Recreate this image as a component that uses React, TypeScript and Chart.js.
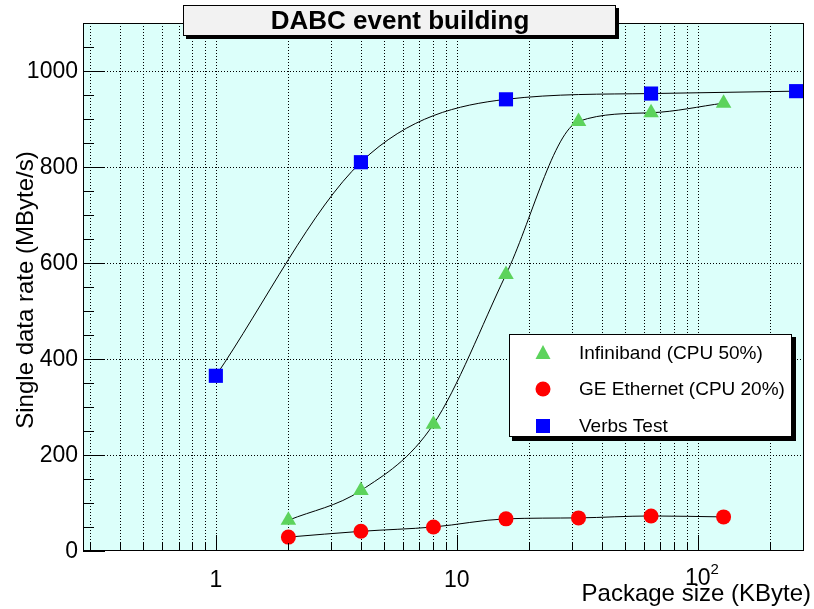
import React, { useEffect, useRef } from 'react';
import { Chart, registerables } from 'chart.js';

Chart.register(...registerables);

// ---- data ----
const verbsSizes = [1, 4, 16, 64, 256];
const verbsRate = [365, 810, 941, 953, 958];
const packageSizes = [2, 4, 8, 16, 32, 64, 128];
const infinibandRate = [64, 126, 264, 576, 895, 913, 933];
const ethernetRate = [29, 41, 50, 67, 69, 73, 71];

const seriesNames = ['Infiniband (CPU 50%)', 'GE Ethernet (CPU 20%)', 'Verbs Test'];
const chartTitle = 'DABC event building';
const xTitle = 'Package size (KByte)';
const yTitle = 'Single data rate (MByte/s)';

const xGridTicks = [0.3, 0.4, 0.5, 0.6, 0.7, 0.8, 0.9, 1, 2, 3, 4, 5, 6, 7, 8, 9, 10, 20, 30, 40, 50, 60, 70, 80, 90, 100, 200];
const xMajorTicks = [1, 10, 100];
const xTickLabels = ['1', '10', '10'];
const xTickExponents = ['', '', '2'];
const yMajorTicks = [0, 200, 400, 600, 800, 1000];
const yMinorTicks = [50, 100, 150, 250, 300, 350, 450, 500, 550, 650, 700, 750, 850, 900, 950, 1050];

const BG = '#dcfffa';
const GREEN = '#5cd35c';
const RED = '#ff0000';
const BLUE = '#0000ff';
const FONT = '"Liberation Sans", Arial, Helvetica, sans-serif';

function drawMarker(ctx: CanvasRenderingContext2D, kind: string, x: number, y: number, color: string) {
  ctx.fillStyle = color;
  ctx.beginPath();
  if (kind === 'triangle') {
    ctx.moveTo(x, y - 8);
    ctx.lineTo(x + 7.5, y + 6);
    ctx.lineTo(x - 7.5, y + 6);
    ctx.closePath();
  } else if (kind === 'circle') {
    ctx.arc(x, y, 7.5, 0, Math.PI * 2);
  } else {
    ctx.rect(x - 7, y - 7, 14, 14);
  }
  ctx.fill();
}

const rootStyle = {
  id: 'rootStyle',
  beforeDraw(chart: any) {
    const { ctx, chartArea: a } = chart;
    const x = chart.scales.x;
    const y = chart.scales.y;
    ctx.save();
    ctx.fillStyle = '#ffffff';
    ctx.fillRect(0, 0, chart.width, chart.height);
    ctx.fillStyle = BG;
    ctx.fillRect(a.left, a.top, a.right - a.left, a.bottom - a.top);
    ctx.strokeStyle = '#000';
    ctx.lineWidth = 1;
    ctx.setLineDash([1, 2]);
    ctx.beginPath();
    for (const v of xGridTicks) {
      const px = Math.round(x.getPixelForValue(v)) + 0.5;
      ctx.moveTo(px, a.top);
      ctx.lineTo(px, a.bottom);
    }
    for (const v of yMajorTicks) {
      if (v === 0) continue;
      const py = Math.round(y.getPixelForValue(v)) + 0.5;
      ctx.moveTo(a.left, py);
      ctx.lineTo(a.right, py);
    }
    ctx.stroke();
    ctx.restore();
  },
  afterDatasetsDraw(chart: any) {
    const { ctx, chartArea: a } = chart;
    const x = chart.scales.x;
    const y = chart.scales.y;
    ctx.save();
    ctx.setLineDash([]);
    ctx.strokeStyle = '#000';
    ctx.lineWidth = 1;
    // frame
    ctx.strokeRect(Math.round(a.left) + 0.5, Math.round(a.top) + 0.5, Math.round(a.right - a.left) - 1, Math.round(a.bottom - a.top) - 1);
    // y ticks
    ctx.beginPath();
    for (const v of yMajorTicks) {
      const py = Math.round(y.getPixelForValue(v)) + 0.5;
      ctx.moveTo(a.left, py);
      ctx.lineTo(a.left + 22, py);
    }
    for (const v of yMinorTicks) {
      const py = Math.round(y.getPixelForValue(v)) + 0.5;
      ctx.moveTo(a.left, py);
      ctx.lineTo(a.left + 11, py);
    }
    // x ticks
    for (const v of xGridTicks) {
      const px = Math.round(x.getPixelForValue(v)) + 0.5;
      const len = xMajorTicks.includes(v) ? 16 : 8;
      ctx.moveTo(px, a.bottom);
      ctx.lineTo(px, a.bottom - len);
    }
    ctx.stroke();

    // y labels
    ctx.fillStyle = '#000';
    ctx.font = `23px ${FONT}`;
    ctx.textAlign = 'right';
    ctx.textBaseline = 'middle';
    for (const v of yMajorTicks) {
      ctx.fillText(String(v), 78, y.getPixelForValue(v) + 1);
    }
    // x labels
    xMajorTicks.forEach((v, i) => {
      const px = x.getPixelForValue(v);
      const lab = xTickLabels[i];
      const exp = xTickExponents[i];
      ctx.font = `23px ${FONT}`;
      ctx.textBaseline = 'alphabetic';
      if (!exp) {
        ctx.textAlign = 'center';
        ctx.fillText(lab, px, 587);
      } else {
        const w = ctx.measureText(lab).width;
        ctx.textAlign = 'left';
        const start = px - w / 2;
        ctx.fillText(lab, start, 585);
        ctx.font = `15px ${FONT}`;
        ctx.fillText(exp, start + w, 574);
      }
    });

    // axis titles
    ctx.font = `24px ${FONT}`;
    ctx.textAlign = 'right';
    ctx.textBaseline = 'alphabetic';
    ctx.fillText(xTitle, 811, 601);
    ctx.save();
    ctx.translate(33, 290);
    ctx.rotate(-Math.PI / 2);
    ctx.textAlign = 'center';
    ctx.fillText(yTitle, 0, 0);
    ctx.restore();

    // title box
    ctx.fillStyle = '#000';
    ctx.fillRect(186, 8, 433, 31);
    ctx.fillStyle = '#f2f2f2';
    ctx.fillRect(183, 5, 433, 31);
    ctx.strokeRect(183.5, 5.5, 432, 30);
    ctx.fillStyle = '#000';
    ctx.font = `bold 26px ${FONT}`;
    ctx.textAlign = 'center';
    ctx.textBaseline = 'middle';
    ctx.fillText(chartTitle, 400, 22);

    // legend box
    ctx.fillStyle = '#000';
    ctx.fillRect(512, 337, 284, 104);
    ctx.fillStyle = '#ffffff';
    ctx.fillRect(509, 334, 283, 103);
    ctx.strokeRect(509.5, 334.5, 282, 102);
    const rows = [
      { kind: 'triangle', color: GREEN, y: 353 },
      { kind: 'circle', color: RED, y: 389 },
      { kind: 'rect', color: BLUE, y: 426 },
    ];
    rows.forEach((r, i) => {
      drawMarker(ctx, r.kind, 543, r.y, r.color);
      ctx.fillStyle = '#000';
      ctx.font = `19px ${FONT}`;
      ctx.textAlign = 'left';
      ctx.textBaseline = 'middle';
      ctx.fillText(seriesNames[i], 579, r.y + 1);
    });
    ctx.restore();
  },
};

export default function App() {
  const ref = useRef<HTMLCanvasElement | null>(null);
  useEffect(() => {
    document.body.style.margin = '0';
    const canvas = ref.current;
    if (!canvas) return;
    const mk = (xs: number[], ys: number[]) => xs.map((v, i) => ({ x: v, y: ys[i] }));
    const chart = new Chart(canvas, {
      type: 'scatter',
      data: {
        datasets: [
          {
            label: seriesNames[1],
            data: mk(packageSizes, ethernetRate),
            showLine: true,
            borderColor: '#000',
            borderWidth: 1,
            cubicInterpolationMode: 'monotone',
            pointStyle: 'circle',
            pointRadius: 7.5,
            pointBackgroundColor: RED,
            pointBorderColor: RED,
            pointBorderWidth: 0,
          },
          {
            label: seriesNames[0],
            data: mk(packageSizes, infinibandRate),
            showLine: true,
            borderColor: '#000',
            borderWidth: 1,
            cubicInterpolationMode: 'monotone',
            pointStyle: 'triangle',
            pointRadius: 9,
            pointBackgroundColor: GREEN,
            pointBorderColor: GREEN,
            pointBorderWidth: 0,
          },
          {
            label: seriesNames[2],
            data: mk(verbsSizes, verbsRate),
            showLine: true,
            borderColor: '#000',
            borderWidth: 1,
            cubicInterpolationMode: 'monotone',
            pointStyle: 'rect',
            pointRadius: 10,
            pointBackgroundColor: BLUE,
            pointBorderColor: BLUE,
            pointBorderWidth: 0,
          },
        ],
      },
      options: {
        responsive: false,
        animation: false,
        devicePixelRatio: 1,
        layout: { padding: { left: 83, right: 3, top: 23, bottom: 58 } },
        scales: {
          x: { type: 'logarithmic', min: 0.281, max: 276, display: false },
          y: { type: 'linear', min: 0, max: 1100, display: false },
        },
        plugins: {
          legend: { display: false },
          tooltip: { enabled: false },
          title: { display: false },
        },
        events: [],
      } as any,
      plugins: [rootStyle],
    });
    return () => chart.destroy();
  }, []);
  return (
    <div style={{ width: 814, height: 609 }}>
      <canvas ref={ref} width={814} height={609} style={{ display: 'block' }} />
    </div>
  );
}
